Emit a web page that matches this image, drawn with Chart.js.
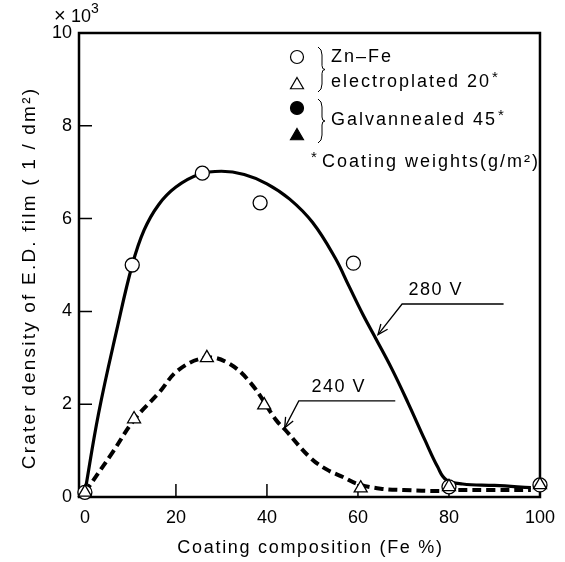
<!DOCTYPE html>
<html>
<head>
<meta charset="utf-8">
<script src="https://cdn.jsdelivr.net/npm/chart.js@4.4.1/dist/chart.umd.min.js"></script>
<style>
  html, body { margin: 0; padding: 0; background: #fff; }
  #wrap { width: 565px; height: 562px; }
</style>
</head>
<body>
<div id="wrap"><canvas id="craterChart" width="565" height="562"></canvas></div>
<script>
// Zn-Fe electroplated, measured points (Fe %, crater density x10^3 / dm2)
const circleFe = [0, 10.4, 25.8, 38.5, 59, 80, 100];
const circleDensity = [0.1, 5.0, 6.98, 6.34, 5.04, 0.22, 0.26];
const triangleFe = [0, 10.8, 26.8, 39.4, 60.6, 80, 100];
const triangleDensity = [0.1, 1.68, 3.0, 1.98, 0.19, 0.22, 0.26];

// hand drawn curves
const curve280Fe = [0, 3, 7, 10.4, 13, 16.2, 20, 25, 30, 35, 40, 45, 50, 55, 58, 61, 64, 67.5, 71, 74.7, 77.5, 79.4, 83, 90, 98];
const curve280Density = [0.1, 1.8, 3.6, 5.0, 5.75, 6.3, 6.68, 6.95, 7.02, 6.95, 6.75, 6.42, 5.92, 5.15, 4.55, 3.95, 3.4, 2.75, 2.03, 1.23, 0.65, 0.37, 0.28, 0.25, 0.2];
const curve240Fe = [0, 6, 10.8, 16.2, 20.6, 26.6, 31.4, 36.4, 42, 44, 49.4, 53, 56.7, 60, 65, 70, 78, 82, 90, 98];
const curve240Density = [0.1, 0.95, 1.66, 2.24, 2.74, 3.0, 2.89, 2.46, 1.66, 1.45, 0.86, 0.6, 0.43, 0.28, 0.18, 0.15, 0.13, 0.15, 0.15, 0.15];

const xTicks = [0, 20, 40, 60, 80, 100];
const yTicks = [0, 2, 4, 6, 8, 10];

const xTitle = "Coating composition (Fe %)";
const yTitle = "Crater density of E.D. film ( 1 / dm\u00b2)";

const FONT = '"Liberation Sans", Arial, Helvetica, sans-serif';

function toPoints(xs, ys) {
  return xs.map((x, i) => ({ x: x, y: ys[i] }));
}

// voltage labels with leader lines, in data units
const voltLabels = [
  { text: "280 V", at: [77.1, 4.46], lead: [[92.0, 4.16], [69.7, 4.16], [64.4, 3.5]] },
  { text: "240 V", at: [55.8, 2.37], lead: [[68.2, 2.07], [47.0, 2.07], [43.9, 1.49]] },
];

function drawBrace(ctx, x, y0, y1) {
  const ym = (y0 + y1) / 2;
  ctx.beginPath();
  ctx.moveTo(x - 3, y0);
  ctx.quadraticCurveTo(x + 1, y0 + 2, x + 1, y0 + 8);
  ctx.lineTo(x + 1, ym - 4);
  ctx.quadraticCurveTo(x + 1, ym, x + 4, ym);
  ctx.quadraticCurveTo(x + 1, ym, x + 1, ym + 4);
  ctx.lineTo(x + 1, y1 - 8);
  ctx.quadraticCurveTo(x + 1, y1 - 2, x - 3, y1);
  ctx.stroke();
}

function marker(ctx, style, x, y, r, filled) {
  ctx.beginPath();
  if (style === "circle") {
    ctx.arc(x, y, r, 0, Math.PI * 2);
  } else {
    ctx.moveTo(x, y - r);
    ctx.lineTo(x + r * 0.866, y + r * 0.5);
    ctx.lineTo(x - r * 0.866, y + r * 0.5);
    ctx.closePath();
  }
  ctx.fillStyle = filled ? "#000" : "#fff";
  ctx.fill();
  ctx.stroke();
  ctx.fillStyle = "#000";
}

const figureExtras = {
  id: "figureExtras",
  beforeDatasetsDraw(chart) {
    const { ctx, chartArea: ca, scales } = chart;
    ctx.save();
    ctx.strokeStyle = "#000";
    ctx.lineWidth = 2.5;
    ctx.strokeRect(ca.left, ca.top, ca.right - ca.left, ca.bottom - ca.top);
    // inward tick marks
    ctx.lineWidth = 1.5;
    ctx.beginPath();
    xTicks.slice(1, -1).forEach((v) => {
      const px = scales.x.getPixelForValue(v);
      ctx.moveTo(px, ca.bottom);
      ctx.lineTo(px, ca.bottom - 13);
    });
    yTicks.slice(1, -1).forEach((v) => {
      const py = scales.y.getPixelForValue(v);
      ctx.moveTo(ca.left, py);
      ctx.lineTo(ca.left + 13, py);
    });
    ctx.stroke();
    ctx.restore();
  },
  afterDraw(chart) {
    const { ctx, chartArea: ca, scales } = chart;
    const X = (v) => scales.x.getPixelForValue(v);
    const Y = (v) => scales.y.getPixelForValue(v);
    ctx.save();
    ctx.fillStyle = "#000";
    ctx.strokeStyle = "#000";
    ctx.textBaseline = "middle";

    // axis titles (spaced out like the original print)
    ctx.letterSpacing = "1.7px";
    ctx.font = "18px " + FONT;
    ctx.textAlign = "center";
    ctx.fillText(xTitle, (ca.left + ca.right) / 2 + 1, 548);
    ctx.save();
    ctx.translate(30, 278);
    ctx.rotate(-Math.PI / 2);
    ctx.letterSpacing = "2.2px";
    ctx.font = "19px " + FONT;
    ctx.fillText(yTitle, 0, 0);
    ctx.restore();

    // x10^3 multiplier
    ctx.letterSpacing = "0px";
    ctx.textAlign = "left";
    ctx.font = "20px " + FONT;
    ctx.fillText("\u00d7", 54, 16);
    ctx.font = "18px " + FONT;
    ctx.fillText("10", 71, 17);
    ctx.font = "14px " + FONT;
    ctx.fillText("3", 91, 9);

    // voltage labels
    ctx.letterSpacing = "1.5px";
    voltLabels.forEach((lab) => {
      ctx.font = "18px " + FONT;
      ctx.textAlign = "center";
      ctx.fillText(lab.text, X(lab.at[0]), Y(lab.at[1]));
      const pts = lab.lead.map((p) => [X(p[0]), Y(p[1])]);
      ctx.lineWidth = 1.3;
      ctx.beginPath();
      ctx.moveTo(pts[0][0], pts[0][1]);
      pts.slice(1).forEach((p) => ctx.lineTo(p[0], p[1]));
      ctx.stroke();
      // open arrow head
      const a = pts[pts.length - 2], b = pts[pts.length - 1];
      const ang = Math.atan2(b[1] - a[1], b[0] - a[0]);
      ctx.beginPath();
      ctx.moveTo(b[0] - 11 * Math.cos(ang - 0.4), b[1] - 11 * Math.sin(ang - 0.4));
      ctx.lineTo(b[0], b[1]);
      ctx.lineTo(b[0] - 11 * Math.cos(ang + 0.4), b[1] - 11 * Math.sin(ang + 0.4));
      ctx.stroke();
    });

    // legend box
    ctx.lineWidth = 1.2;
    marker(ctx, "circle", 297, 57, 6.5, false);
    marker(ctx, "triangle", 297, 85, 7.5, false);
    marker(ctx, "circle", 297, 108, 6.5, true);
    marker(ctx, "triangle", 297, 136, 7.5, true);
    ctx.lineWidth = 1;
    drawBrace(ctx, 321, 47, 92);
    drawBrace(ctx, 321, 99, 143);
    ctx.letterSpacing = "2px";
    ctx.font = "18px " + FONT;
    ctx.textAlign = "left";
    ctx.fillText("Zn\u2013Fe", 331, 57);
    ctx.fillText("electroplated 20", 331, 82);
    ctx.fillText("Galvannealed 45", 331, 120);
    const w1 = ctx.measureText("electroplated 20").width;
    const w2 = ctx.measureText("Galvannealed 45").width;
    ctx.fillText("Coating weights(g/m\u00b2)", 322, 162);
    ctx.font = "15px " + FONT;
    ctx.fillText("*", 332 + w1, 78);
    ctx.fillText("*", 332 + w2, 116);
    ctx.fillText("*", 311, 158);
    ctx.restore();
  },
};

const ctx = document.getElementById("craterChart").getContext("2d");
new Chart(ctx, {
  type: "scatter",
  data: {
    datasets: [
      {
        label: "Zn-Fe electroplated (triangles)",
        data: toPoints(triangleFe, triangleDensity),
        pointStyle: "triangle",
        pointRadius: 7.5,
        backgroundColor: "#fff",
        borderColor: "#000",
        borderWidth: 1.3,
        clip: false,
        order: 1,
      },
      {
        label: "Zn-Fe electroplated (circles)",
        data: toPoints(circleFe, circleDensity),
        pointStyle: "circle",
        pointRadius: 7,
        backgroundColor: "#fff",
        borderColor: "#000",
        borderWidth: 1.3,
        clip: false,
        order: 2,
      },
      {
        label: "280 V",
        data: toPoints(curve280Fe, curve280Density),
        showLine: true,
        pointRadius: 0,
        borderColor: "#000",
        borderWidth: 3.2,
        tension: 0.4,
        order: 3,
      },
      {
        label: "240 V",
        data: toPoints(curve240Fe, curve240Density),
        showLine: true,
        pointRadius: 0,
        borderColor: "#000",
        borderWidth: 4,
        borderDash: [9, 5],
        tension: 0.4,
        order: 4,
      },
    ],
  },
  options: {
    responsive: false,
    animation: false,
    events: [],
    layout: { padding: { left: 0, right: 18, top: 33, bottom: 0 } },
    plugins: {
      legend: { display: false },
      tooltip: { enabled: false },
    },
    scales: {
      x: {
        type: "linear",
        min: -1.3,
        max: 100,
        afterBuildTicks: (s) => {
          s.ticks = xTicks.map((v) => ({ value: v }));
        },
        afterFit: (s) => {
          s.height = 65;
        },
        grid: { display: false, drawTicks: false },
        border: { display: false },
        ticks: {
          padding: 10,
          color: "#000",
          maxRotation: 0,
          autoSkip: false,
          font: { size: 18, family: FONT },
        },
      },
      y: {
        type: "linear",
        min: 0,
        max: 10,
        afterBuildTicks: (s) => {
          s.ticks = yTicks.map((v) => ({ value: v }));
        },
        afterFit: (s) => {
          s.width = 79;
        },
        grid: { display: false, drawTicks: false },
        border: { display: false },
        ticks: {
          padding: 7,
          color: "#000",
          font: { size: 18, family: FONT },
        },
      },
    },
  },
  plugins: [figureExtras],
});
</script>
</body>
</html>
